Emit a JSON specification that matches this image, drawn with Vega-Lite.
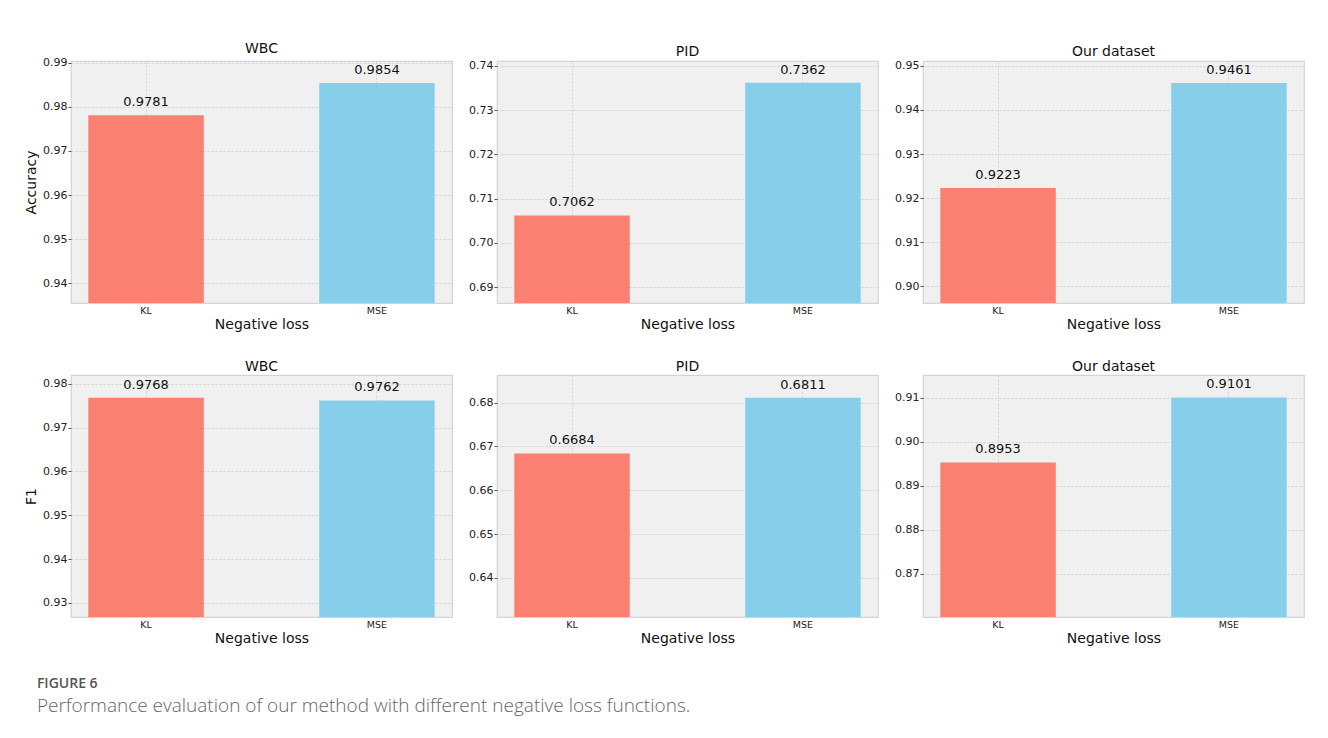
{
  "$schema": "https://vega.github.io/schema/vega-lite/v6.json",
  "background": "white",
  "padding": {"left": 23, "top": 41, "right": 20, "bottom": 20},
  "datasets": {
    "scores": [
      {"metric": "Accuracy", "dataset": "WBC", "loss": "KL", "value": 0.9781},
      {"metric": "Accuracy", "dataset": "WBC", "loss": "MSE", "value": 0.9854},
      {"metric": "Accuracy", "dataset": "PID", "loss": "KL", "value": 0.7062},
      {"metric": "Accuracy", "dataset": "PID", "loss": "MSE", "value": 0.7362},
      {"metric": "Accuracy", "dataset": "Our dataset", "loss": "KL", "value": 0.9223},
      {"metric": "Accuracy", "dataset": "Our dataset", "loss": "MSE", "value": 0.9461},
      {"metric": "F1", "dataset": "WBC", "loss": "KL", "value": 0.9768},
      {"metric": "F1", "dataset": "WBC", "loss": "MSE", "value": 0.9762},
      {"metric": "F1", "dataset": "PID", "loss": "KL", "value": 0.6684},
      {"metric": "F1", "dataset": "PID", "loss": "MSE", "value": 0.6811},
      {"metric": "F1", "dataset": "Our dataset", "loss": "KL", "value": 0.8953},
      {"metric": "F1", "dataset": "Our dataset", "loss": "MSE", "value": 0.9101}
    ]
  },
  "title": {
    "text": "FIGURE 6",
    "subtitle": "Performance evaluation of our method with different negative loss functions.",
    "orient": "bottom",
    "anchor": "start",
    "frame": "bounds",
    "offset": 31,
    "dx": 13,
    "font": "Open Sans",
    "fontSize": 14,
    "fontWeight": 600,
    "color": "#555555",
    "subtitleFont": "Open Sans",
    "subtitleFontSize": 19,
    "subtitleFontWeight": 300,
    "subtitleColor": "#666666",
    "subtitlePadding": 6
  },
  "columns": 3,
  "bounds": "flush",
  "spacing": {"row": 72, "column": 45},
  "concat": [
    {
      "title": "WBC",
      "data": {"name": "scores"},
      "transform": [{"filter": "datum.metric === 'Accuracy' && datum.dataset === 'WBC'"}],
      "width": 381, "height": 242,
      "encoding": {
        "x": {"field": "loss", "type": "nominal", "sort": ["KL", "MSE"], "scale": {"paddingInner": 0.5, "paddingOuter": 0.075}, "axis": {"title": "Negative loss"}},
        "y": {"field": "value", "type": "quantitative", "scale": {"domain": [0.9355, 0.9904], "nice": false, "zero": false}, "axis": {"title": "Accuracy", "values": [0.94, 0.95, 0.96, 0.97, 0.98, 0.99]}}
      },
      "layer": [
        {"mark": {"type": "bar", "clip": true}, "encoding": {"color": {"field": "loss", "type": "nominal", "scale": {"domain": ["KL", "MSE"], "range": ["#FA8072", "#87CEEB"]}, "legend": null}}},
        {"mark": {"type": "text", "baseline": "bottom", "dy": -6, "font": "DejaVu Sans", "fontSize": 13, "color": "#111111"}, "encoding": {"text": {"field": "value", "type": "quantitative", "format": ".4f"}}}
      ]
    },
    {
      "title": "PID",
      "data": {"name": "scores"},
      "transform": [{"filter": "datum.metric === 'Accuracy' && datum.dataset === 'PID'"}],
      "width": 381, "height": 242,
      "encoding": {
        "x": {"field": "loss", "type": "nominal", "sort": ["KL", "MSE"], "scale": {"paddingInner": 0.5, "paddingOuter": 0.075}, "axis": {"title": "Negative loss"}},
        "y": {"field": "value", "type": "quantitative", "scale": {"domain": [0.6864, 0.7411], "nice": false, "zero": false}, "axis": {"title": null, "values": [0.69, 0.70, 0.71, 0.72, 0.73, 0.74]}}
      },
      "layer": [
        {"mark": {"type": "bar", "clip": true}, "encoding": {"color": {"field": "loss", "type": "nominal", "scale": {"domain": ["KL", "MSE"], "range": ["#FA8072", "#87CEEB"]}, "legend": null}}},
        {"mark": {"type": "text", "baseline": "bottom", "dy": -6, "font": "DejaVu Sans", "fontSize": 13, "color": "#111111"}, "encoding": {"text": {"field": "value", "type": "quantitative", "format": ".4f"}}}
      ]
    },
    {
      "title": "Our dataset",
      "data": {"name": "scores"},
      "transform": [{"filter": "datum.metric === 'Accuracy' && datum.dataset === 'Our dataset'"}],
      "width": 381, "height": 242,
      "encoding": {
        "x": {"field": "loss", "type": "nominal", "sort": ["KL", "MSE"], "scale": {"paddingInner": 0.5, "paddingOuter": 0.075}, "axis": {"title": "Negative loss"}},
        "y": {"field": "value", "type": "quantitative", "scale": {"domain": [0.8962, 0.9511], "nice": false, "zero": false}, "axis": {"title": null, "values": [0.90, 0.91, 0.92, 0.93, 0.94, 0.95]}}
      },
      "layer": [
        {"mark": {"type": "bar", "clip": true}, "encoding": {"color": {"field": "loss", "type": "nominal", "scale": {"domain": ["KL", "MSE"], "range": ["#FA8072", "#87CEEB"]}, "legend": null}}},
        {"mark": {"type": "text", "baseline": "bottom", "dy": -6, "font": "DejaVu Sans", "fontSize": 13, "color": "#111111"}, "encoding": {"text": {"field": "value", "type": "quantitative", "format": ".4f"}}}
      ]
    },
    {
      "title": "WBC",
      "data": {"name": "scores"},
      "transform": [{"filter": "datum.metric === 'F1' && datum.dataset === 'WBC'"}],
      "width": 381, "height": 242,
      "encoding": {
        "x": {"field": "loss", "type": "nominal", "sort": ["KL", "MSE"], "scale": {"paddingInner": 0.5, "paddingOuter": 0.075}, "axis": {"title": "Negative loss"}},
        "y": {"field": "value", "type": "quantitative", "scale": {"domain": [0.9268, 0.982], "nice": false, "zero": false}, "axis": {"title": "F1", "values": [0.93, 0.94, 0.95, 0.96, 0.97, 0.98]}}
      },
      "layer": [
        {"mark": {"type": "bar", "clip": true}, "encoding": {"color": {"field": "loss", "type": "nominal", "scale": {"domain": ["KL", "MSE"], "range": ["#FA8072", "#87CEEB"]}, "legend": null}}},
        {"mark": {"type": "text", "baseline": "bottom", "dy": -6, "font": "DejaVu Sans", "fontSize": 13, "color": "#111111"}, "encoding": {"text": {"field": "value", "type": "quantitative", "format": ".4f"}}}
      ]
    },
    {
      "title": "PID",
      "data": {"name": "scores"},
      "transform": [{"filter": "datum.metric === 'F1' && datum.dataset === 'PID'"}],
      "width": 381, "height": 242,
      "encoding": {
        "x": {"field": "loss", "type": "nominal", "sort": ["KL", "MSE"], "scale": {"paddingInner": 0.5, "paddingOuter": 0.075}, "axis": {"title": "Negative loss"}},
        "y": {"field": "value", "type": "quantitative", "scale": {"domain": [0.6311, 0.6863], "nice": false, "zero": false}, "axis": {"title": null, "values": [0.64, 0.65, 0.66, 0.67, 0.68]}}
      },
      "layer": [
        {"mark": {"type": "bar", "clip": true}, "encoding": {"color": {"field": "loss", "type": "nominal", "scale": {"domain": ["KL", "MSE"], "range": ["#FA8072", "#87CEEB"]}, "legend": null}}},
        {"mark": {"type": "text", "baseline": "bottom", "dy": -6, "font": "DejaVu Sans", "fontSize": 13, "color": "#111111"}, "encoding": {"text": {"field": "value", "type": "quantitative", "format": ".4f"}}}
      ]
    },
    {
      "title": "Our dataset",
      "data": {"name": "scores"},
      "transform": [{"filter": "datum.metric === 'F1' && datum.dataset === 'Our dataset'"}],
      "width": 381, "height": 242,
      "encoding": {
        "x": {"field": "loss", "type": "nominal", "sort": ["KL", "MSE"], "scale": {"paddingInner": 0.5, "paddingOuter": 0.075}, "axis": {"title": "Negative loss"}},
        "y": {"field": "value", "type": "quantitative", "scale": {"domain": [0.8601, 0.9152], "nice": false, "zero": false}, "axis": {"title": null, "values": [0.87, 0.88, 0.89, 0.90, 0.91]}}
      },
      "layer": [
        {"mark": {"type": "bar", "clip": true}, "encoding": {"color": {"field": "loss", "type": "nominal", "scale": {"domain": ["KL", "MSE"], "range": ["#FA8072", "#87CEEB"]}, "legend": null}}},
        {"mark": {"type": "text", "baseline": "bottom", "dy": -6, "font": "DejaVu Sans", "fontSize": 13, "color": "#111111"}, "encoding": {"text": {"field": "value", "type": "quantitative", "format": ".4f"}}}
      ]
    }
  ],
  "config": {
    "font": "DejaVu Sans",
    "view": {"fill": "#f0f0f0", "stroke": "#d4d4d4", "strokeWidth": 1.2},
    "title": {"font": "DejaVu Sans", "fontSize": 14, "fontWeight": "normal", "color": "#111111", "offset": 1},
    "axis": {
      "zindex": 1,
      "domain": false,
      "grid": true,
      "gridColor": "#c9c9c9",
      "gridDash": [2, 2],
      "gridWidth": 0.8,
      "labelFont": "DejaVu Sans",
      "labelColor": "#222222",
      "titleFont": "DejaVu Sans",
      "titleFontSize": 14,
      "titleFontWeight": "normal",
      "titleColor": "#111111"
    },
    "axisX": {"labelAngle": 0, "labelFontSize": 9.5, "ticks": false, "labelPadding": 2, "titlePadding": 3, "bandPosition": 0.5},
    "axisY": {"labelFontSize": 11, "tickSize": 3, "tickColor": "#555555", "labelPadding": 1, "titlePadding": 4, "format": ".2f"}
  }
}
